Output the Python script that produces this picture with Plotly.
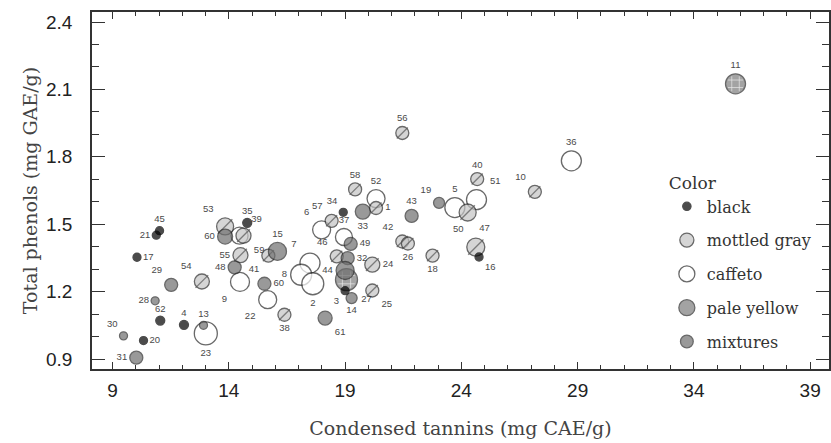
import plotly.graph_objects as go

# ---- data (condensed tannins mg CAE/g, total phenols mg GAE/g) ----
black_id = ["35", "45", "21", "17", "62", "4", "20", "34", "3", "16"]
black_x = [14.79, 11.02, 10.88, 10.05, 11.05, 12.07, 10.33, 18.92, 19.00, 24.76]
black_y = [1.506, 1.471, 1.451, 1.353, 1.071, 1.052, 0.982, 1.553, 1.204, 1.354]
black_size = [9, 8, 8, 8, 9, 9, 8, 8, 8, 8]
black_pos = ["top center", "top center", "middle left", "middle right", "top center",
             "top center", "middle right", "top left", "bottom left", "bottom right"]

gray_id = ["53", "59", "55", "54", "41", "38", "57", "58", "1", "46", "24", "25",
           "56", "42", "26", "18", "47", "40", "50", "10"]
gray_x = [13.84, 14.63, 14.50, 12.84, 15.70, 16.39, 18.42, 19.43, 20.33, 18.64, 20.17, 20.17,
          21.46, 21.46, 21.70, 22.76, 24.27, 24.68, 24.62, 27.16]
gray_y = [1.490, 1.449, 1.362, 1.245, 1.360, 1.097, 1.515, 1.655, 1.572, 1.357, 1.320, 1.205,
          1.906, 1.423, 1.414, 1.360, 1.552, 1.701, 1.398, 1.644]
gray_size = [17, 15, 15, 15, 13, 13, 13, 13, 13, 13, 15, 13, 13, 13, 13, 13, 17, 13, 18, 13]
gray_pos = ["top left", "bottom right", "middle left", "top left", "bottom left", "bottom center",
            "top left", "top center", "middle right", "top left", "middle right", "bottom right",
            "top center", "top left", "bottom center", "bottom center", "bottom right",
            "top center", "top left", "top left"]

caffeto_id = ["39", "9", "23", "22", "7", "8", "2", "6", "52", "37", "5", "51", "36"]
caffeto_x = [14.46, 14.48, 13.01, 15.67, 17.49, 17.11, 17.61, 17.99, 20.33, 18.95, 23.72, 24.65, 28.73]
caffeto_y = [1.449, 1.243, 1.014, 1.164, 1.327, 1.275, 1.235, 1.475, 1.614, 1.443, 1.574, 1.609, 1.782]
caffeto_size = [17, 19, 23, 18, 20, 21, 22, 18, 18, 17, 20, 20, 20]
caffeto_pos = ["top right", "bottom left", "bottom center", "bottom left", "top left", "middle left",
               "bottom center", "top left", "top center", "top center", "top center",
               "top right", "top center"]

pale_id = ["27", "11"]
pale_x = [19.06, 35.79]
pale_y = [1.253, 2.125]
pale_size = [22, 20]
pale_pos = ["bottom right", "top center"]

mix_id = ["60", "48", "29", "28", "13", "30", "31", "15", "60", "33", "49", "32", "44",
          "14", "61", "43", "19"]
mix_x = [13.84, 14.25, 11.52, 10.83, 12.91, 9.47, 10.02, 16.09, 15.53, 19.76, 19.24, 19.11, 19.00,
         19.28, 18.14, 21.86, 23.04]
mix_y = [1.445, 1.308, 1.230, 1.159, 1.050, 1.003, 0.906, 1.379, 1.235, 1.556, 1.412, 1.349, 1.294,
         1.171, 1.082, 1.537, 1.595]
mix_size = [15, 13, 13, 8, 8, 8, 13, 18, 13, 15, 13, 13, 18, 11, 14, 13, 11]
mix_pos = ["middle left", "middle left", "top left", "middle left", "top center", "top left",
           "middle left", "top center", "middle right", "bottom center", "middle right", "middle right",
           "middle left", "bottom center", "bottom right", "top center", "top left"]

x_ticks = [9, 14, 19, 24, 29, 34, 39]
y_ticks = [0.9, 1.2, 1.5, 1.8, 2.1, 2.4]

EDGE = "#2a2a2a"
LABEL_FONT = dict(family="Liberation Sans, Arial, sans-serif", size=9.5, color="#4a4a4a")
TITLE_FONT = dict(family="DejaVu Serif, serif", size=19, color="#444444")

fig = go.Figure()


def add(name, rank, xs, ys, sizes, ids, pos, fill, edge=EDGE, width=1.3):
    fig.add_trace(go.Scatter(
        x=xs, y=ys, mode="markers+text", name=name, legendrank=rank, legendgroup=name,
        text=ids, textposition=pos, textfont=LABEL_FONT,
        marker=dict(symbol="circle", size=sizes, color=fill, line=dict(color=edge, width=width)),
        hoverinfo="skip",
    ))


# drawing order: caffeto, pale yellow, mottled gray, mixtures, black
add("caffeto", 3, caffeto_x, caffeto_y, caffeto_size, caffeto_id, caffeto_pos, "#ffffff")
add("pale yellow", 4, pale_x, pale_y, pale_size, pale_id, pale_pos, "#7d7d7d")
fig.add_trace(go.Scatter(
    x=pale_x, y=pale_y, mode="markers", showlegend=False, hoverinfo="skip",
    marker=dict(symbol="hash-open", size=[s * 0.75 for s in pale_size],
                color="#e8e8e8", line=dict(color="#e8e8e8", width=1)),
))
add("mottled gray", 2, gray_x, gray_y, gray_size, gray_id, gray_pos, "#c4c4c4")
fig.add_trace(go.Scatter(
    x=gray_x, y=gray_y, mode="markers", showlegend=False, hoverinfo="skip",
    marker=dict(symbol="line-ne-open", size=[s * 0.85 for s in gray_size],
                color="#555555", line=dict(color="#555555", width=1.3)),
))
add("mixtures", 5, mix_x, mix_y, mix_size, mix_id, mix_pos, "#6e6e6e")
add("black", 1, black_x, black_y, black_size, black_id, black_pos, "#000000", edge="#000000")

axis_common = dict(
    showline=True, linecolor="#333333", linewidth=1.5, mirror="ticks",
    ticks="inside", tickcolor="#333333", tickwidth=1.3,
    showgrid=False, zeroline=False, automargin=False,
    tickfont=dict(family="Liberation Sans, Arial, sans-serif", size=19, color="#222222"),
)

fig.update_xaxes(
    **axis_common, range=[8.115, 39.81], tickvals=x_ticks, ticklen=7,
    ticklabelstandoff=3,
    minor=dict(dtick=1, tick0=9, ticks="inside", ticklen=4, tickcolor="#333333", tickwidth=1),
    title=dict(text="Condensed tannins (mg CAE/g)", standoff=22, font=TITLE_FONT),
)
fig.update_yaxes(
    **axis_common, range=[0.8555, 2.4445], tickvals=y_ticks, ticktext=[f"{v:.1f}" for v in y_ticks],
    ticklen=13, ticklabelstandoff=14,
    minor=dict(dtick=0.1, tick0=0.9, ticks="inside", ticklen=7, tickcolor="#333333", tickwidth=1),
    title=dict(text="Total phenols (mg GAE/g)", standoff=3, font=TITLE_FONT),
)

fig.update_layout(
    width=831, height=443,
    margin=dict(l=92, r=2, t=12, b=74),
    paper_bgcolor="#ffffff", plot_bgcolor="#ffffff",
    legend=dict(
        title=dict(text="Color", font=dict(family="DejaVu Serif, serif", size=17, color="#333333")),
        font=dict(family="DejaVu Serif, serif", size=16, color="#333333"),
        x=0.78, y=0.565, xanchor="left", yanchor="top",
        bgcolor="rgba(0,0,0,0)", traceorder="grouped", tracegroupgap=10,
        itemsizing="trace",
    ),
)

fig.write_html(
    "out.html",
    config={"displayModeBar": False},
    post_script="document.body.style.margin='0';document.body.style.padding='0';",
)
